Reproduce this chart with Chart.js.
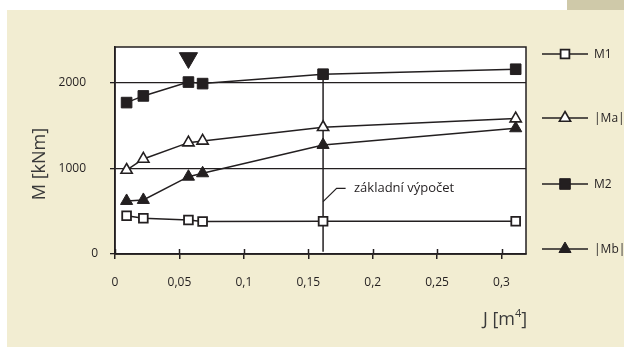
<!DOCTYPE html>
<html>
<head>
<meta charset="utf-8">
<script src="https://cdn.jsdelivr.net/npm/chart.js@4/dist/chart.umd.min.js"></script>
<style>
  html, body { margin: 0; padding: 0; background: #ffffff; }
  canvas { display: block; }
</style>
</head>
<body>
<canvas id="c" width="624" height="347" style="width:624px;height:347px"></canvas>
<script>
// ---- data ----
const xValues = [0.009, 0.022, 0.057, 0.068, 0.1615, 0.311];
const m1 = [448, 417, 398, 380, 382, 382];
const ma = [982, 1111, 1302, 1322, 1482, 1583];
const m2 = [1770, 1848, 2010, 1992, 2102, 2160];
const mb = [620, 632, 904, 944, 1275, 1470];
const seriesNames = ['M1', '|Ma|', 'M2', '|Mb|'];

const xTickValues = [0, 0.05, 0.1, 0.15, 0.2, 0.25, 0.3];
const xTickLabels = ['0', '0,05', '0,1', '0,15', '0,2', '0,25', '0,3'];
const yTickValues = [0, 1000, 2000];
const yTickLabels = ['0', '1000\u2002\u2002', '2000\u2002\u2002'];

const refX = 0.1615;              // "základní výpočet" J value
const refLineY = [25, 2102];
const leaderPts = [[0.1615, 612], [0.172, 768], [0.179, 768]];
const refText = 'základní výpočet';
const refTextPos = [0.1855, 768];
const arrowPt = [0.057, 2292];

const yTitle = 'M [kNm]';
const xTitleMain = 'J [m';
const xTitleSup = '4';
const xTitleEnd = ']';

// ---- styles ----
const INK = '#231f20';
const BEIGE = '#f2edd2';
const FONT = '"Open Sans", "Noto Sans", sans-serif';

const pts = arr => arr.map((v, i) => ({ x: xValues[i], y: v }));

const seriesStyles = [
  { pointStyle: 'rect', pointRadius: 6.2, pointBackgroundColor: '#ffffff', pointBorderWidth: 1.8 },
  { pointStyle: 'triangle', pointRadius: 6.5, pointBackgroundColor: '#ffffff', pointBorderWidth: 1.6 },
  { pointStyle: 'rect', pointRadius: 7.5, pointBackgroundColor: INK, pointBorderWidth: 1 },
  { pointStyle: 'triangle', pointRadius: 7, pointBackgroundColor: INK, pointBorderWidth: 1 }
];
const seriesData = [m1, ma, m2, mb];

const datasets = seriesData.map((d, i) => Object.assign({
  label: seriesNames[i],
  data: pts(d),
  borderColor: INK,
  borderWidth: 1.5,
  pointBorderColor: INK,
  showLine: true,
  tension: 0,
  order: 1
}, seriesStyles[i]));

datasets.push({
  label: 'ref',
  data: refLineY.map(y => ({ x: refX, y })),
  borderColor: INK, borderWidth: 1.5, pointRadius: 0, showLine: true, order: 10
});
datasets.push({
  label: 'leader',
  data: leaderPts.map(p => ({ x: p[0], y: p[1] })),
  borderColor: INK, borderWidth: 1.2, pointRadius: 0, showLine: true, order: 10
});
datasets.push({
  label: 'arrow',
  data: [{ x: arrowPt[0], y: arrowPt[1] }],
  showLine: false, pointStyle: 'triangle', rotation: 180, pointRadius: 10.5,
  pointBackgroundColor: INK, pointBorderColor: INK, pointBorderWidth: 1, order: 1
});

const decor = {
  id: 'decor',
  beforeDraw(chart) {
    const ctx = chart.ctx, a = chart.chartArea;
    ctx.save();
    ctx.fillStyle = '#ffffff';
    ctx.fillRect(0, 0, chart.width, chart.height);
    ctx.fillStyle = BEIGE;
    ctx.fillRect(7, 10, chart.width - 7, chart.height - 10);
    ctx.fillStyle = '#cfc9a9';
    ctx.fillRect(567, 0, chart.width - 567, 10);
    ctx.fillStyle = '#ffffff';
    ctx.fillRect(a.left, a.top, a.right - a.left, a.bottom - a.top);
    ctx.restore();
  },
  beforeDatasetsDraw(chart) {
    const ctx = chart.ctx, a = chart.chartArea, xs = chart.scales.x;
    ctx.save();
    ctx.strokeStyle = INK;
    ctx.lineWidth = 1.5;
    ctx.strokeRect(a.left, a.top, a.right - a.left, a.bottom - a.top);
    ctx.lineWidth = 1.5;
    xTickValues.forEach(v => {
      const px = Math.round(xs.getPixelForValue(v)) + 0.5;
      ctx.beginPath();
      ctx.moveTo(px, a.bottom - 5);
      ctx.lineTo(px, a.bottom);
      ctx.stroke();
    });
    ctx.restore();
  },
  afterDraw(chart) {
    const ctx = chart.ctx, xs = chart.scales.x, ys = chart.scales.y;
    ctx.save();
    ctx.fillStyle = INK;
    // annotation text
    ctx.font = '13px ' + FONT;
    ctx.textAlign = 'left';
    ctx.textBaseline = 'middle';
    ctx.fillText(refText, xs.getPixelForValue(refTextPos[0]), ys.getPixelForValue(refTextPos[1]));
    // legend
    const legY = [54, 118, 184, 249];
    datasets.slice(0, 4).forEach((ds, i) => {
      const y = legY[i];
      ctx.strokeStyle = INK;
      ctx.lineWidth = 1.5;
      ctx.beginPath();
      ctx.moveTo(542, y);
      ctx.lineTo(588, y);
      ctx.stroke();
      ctx.fillStyle = ds.pointBackgroundColor;
      ctx.strokeStyle = INK;
      ctx.lineWidth = ds.pointBorderWidth;
      Chart.helpers.drawPoint(ctx, { pointStyle: ds.pointStyle, radius: ds.pointRadius, rotation: 0, borderWidth: ds.pointBorderWidth }, 565, y);
      ctx.fillStyle = INK;
      ctx.font = '12px ' + FONT;
      ctx.textAlign = 'left';
      ctx.textBaseline = 'middle';
      ctx.fillText(ds.label, 594, y + 1);
    });
    // y title
    ctx.fillStyle = '#3a3a3a';
    ctx.save();
    ctx.translate(40, 164);
    ctx.rotate(-Math.PI / 2);
    ctx.font = '18px ' + FONT;
    ctx.textAlign = 'center';
    ctx.textBaseline = 'middle';
    ctx.fillText(yTitle, 0, 0);
    ctx.restore();
    // x title
    ctx.font = '18px ' + FONT;
    ctx.textBaseline = 'middle';
    ctx.textAlign = 'left';
    const w1 = ctx.measureText(xTitleMain).width;
    ctx.font = '11px ' + FONT;
    const w2 = ctx.measureText(xTitleSup).width;
    ctx.font = '18px ' + FONT;
    const w3 = ctx.measureText(xTitleEnd).width;
    let x0 = 505 - (w1 + w2 + w3) / 2;
    const yb = 320;
    ctx.fillText(xTitleMain, x0, yb);
    ctx.font = '11px ' + FONT;
    ctx.fillText(xTitleSup, x0 + w1, yb - 6);
    ctx.font = '18px ' + FONT;
    ctx.fillText(xTitleEnd, x0 + w1 + w2, yb);
    ctx.restore();
  }
};

new Chart(document.getElementById('c'), {
  type: 'line',
  data: { datasets },
  options: {
    responsive: false,
    animation: false,
    devicePixelRatio: 1,
    layout: { padding: { left: 0, top: 47, right: 98, bottom: 0 } },
    plugins: { legend: { display: false }, tooltip: { enabled: false } },
    scales: {
      x: {
        type: 'linear', min: 0, max: 0.319,
        afterFit(s) { s.height = 93; },
        afterBuildTicks(s) { s.ticks = xTickValues.map(v => ({ value: v })); },
        grid: { drawOnChartArea: false, drawTicks: true, tickLength: 5, color: INK, lineWidth: 1.5 },
        border: { display: true, color: INK, width: 1.5 },
        ticks: {
          padding: 16, color: INK, font: { family: FONT, size: 12 }, maxRotation: 0,
          callback: (v, i) => xTickLabels[i]
        }
      },
      y: {
        type: 'linear', min: 0, max: 2420,
        afterFit(s) { s.width = 115; },
        afterBuildTicks(s) { s.ticks = yTickValues.map(v => ({ value: v })); },
        grid: { drawOnChartArea: true, drawTicks: true, tickLength: 5, color: INK, lineWidth: 1.3 },
        border: { display: true, color: INK, width: 1.5 },
        ticks: {
          padding: 12, color: INK, font: { family: FONT, size: 12 },
          callback: (v, i) => yTickLabels[i]
        }
      }
    }
  },
  plugins: [decor]
});
</script>
</body>
</html>
